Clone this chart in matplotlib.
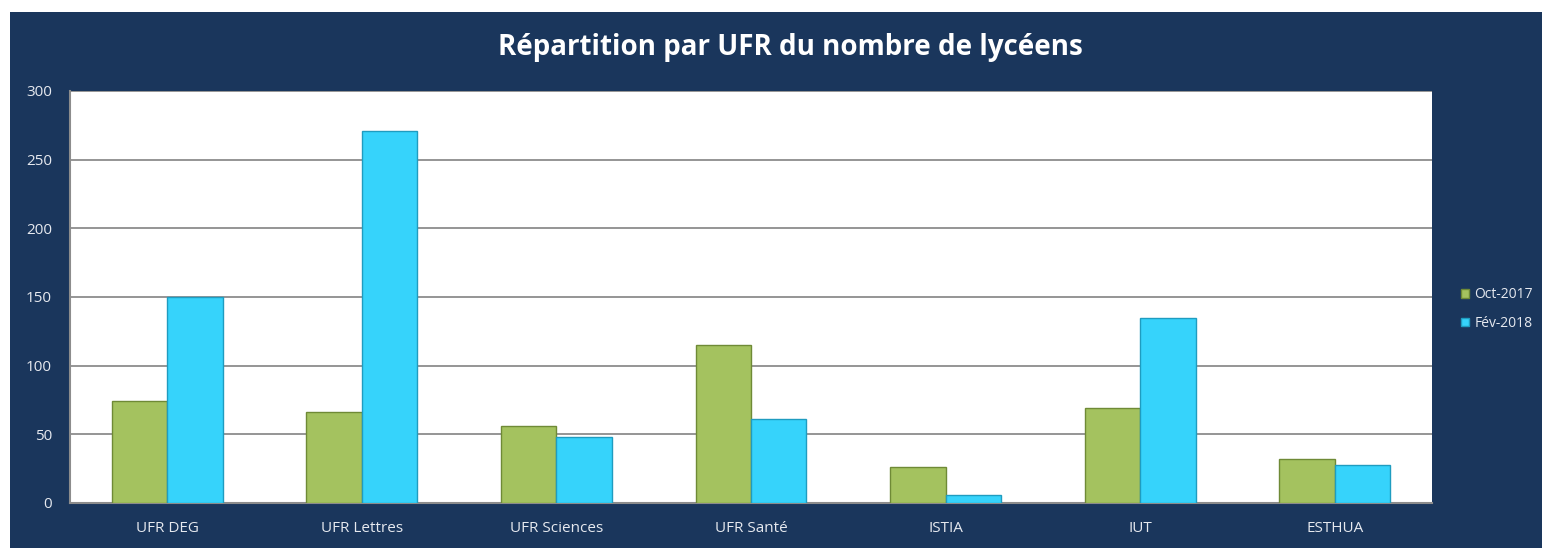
import matplotlib.pyplot as plt
from matplotlib.patches import Rectangle
import numpy as np

# data
categories = ["UFR DEG", "UFR Lettres", "UFR Sciences", "UFR Santé", "ISTIA", "IUT", "ESTHUA"]
oct_2017 = [74, 66, 56, 115, 26, 69, 32]
fev_2018 = [150, 271, 48, 61, 6, 135, 28]
series_labels = ["Oct-2017", "Fév-2018"]

navy = "#1a365c"
green = "#a4c25f"
blue = "#36d3fb"

plt.rcParams['font.family'] = ['Open Sans', 'DejaVu Sans']

fig = plt.figure(figsize=(15.42, 5.48), dpi=100)
fig.patches.append(Rectangle((10 / 1542, 0), 1, 1 - 12 / 548, transform=fig.transFigure,
                             facecolor=navy, edgecolor="none", zorder=-10))

ax = fig.add_axes([70 / 1542, 45 / 548, 1362 / 1542, 412 / 548])
ax.set_facecolor("white")

x = np.arange(len(categories))
w = 0.285
ax.bar(x - w / 2, oct_2017, w, color=green, edgecolor="#6f8a36", linewidth=1, zorder=3, label=series_labels[0])
ax.bar(x + w / 2, fev_2018, w, color=blue, edgecolor="#1f9cc0", linewidth=1, zorder=3, label=series_labels[1])

ax.set_xlim(-0.5, len(categories) - 0.5)
ax.set_ylim(0, 300)
ax.set_yticks(range(0, 301, 50))
ax.set_xticks(x)
ax.set_xticklabels(categories)
ax.yaxis.grid(True, color="#8c8c8c", linewidth=1.3, zorder=0)
ax.set_axisbelow(True)
for s in ["top", "right"]:
    ax.spines[s].set_visible(False)
for s in ["left", "bottom"]:
    ax.spines[s].set_color("#8c8c8c")
    ax.spines[s].set_linewidth(1.5)
ax.tick_params(axis="both", length=0, colors="#e6e9ef", labelsize=11)
ax.tick_params(axis="y", pad=13)
ax.tick_params(axis="x", pad=13)

fig.text(790 / 1542, 1 - 48 / 548, "Répartition par UFR du nombre de lycéens", color="white",
         fontsize=20, fontweight="bold", ha="center", va="center")

leg = fig.legend(loc="center left", bbox_to_anchor=(1448 / 1542, 1 - 309 / 548), frameon=False,
                 labelcolor="#e6e9ef", fontsize=10, handlelength=0.6, handleheight=0.6,
                 handletextpad=0.4, labelspacing=1.0)

fig.savefig("out.png", dpi=100)
